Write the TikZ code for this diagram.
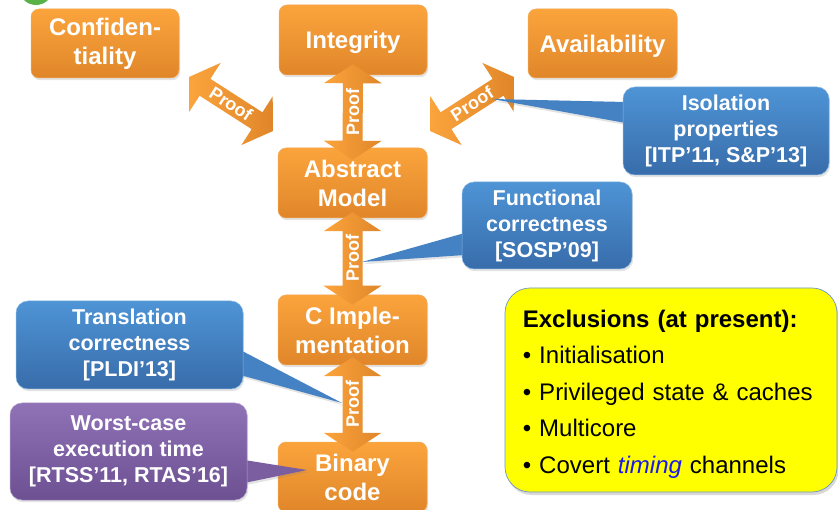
\documentclass[tikz,border=0pt]{standalone}
\usepackage{fontspec}
\setmainfont{Liberation Sans}
\usetikzlibrary{calc,shadows}

\definecolor{orTop}{RGB}{251,164,60}
\definecolor{orBot}{RGB}{224,134,42}
\definecolor{orEdge}{RGB}{240,170,90}
\definecolor{blTop}{RGB}{78,148,214}
\definecolor{blBot}{RGB}{56,108,170}
\definecolor{blMid}{RGB}{68,130,196}
\definecolor{puTop}{RGB}{144,114,182}
\definecolor{puBot}{RGB}{108,80,146}
\definecolor{puMid}{RGB}{122,94,160}
\definecolor{exclYellow}{RGB}{255,255,0}
\definecolor{exclEdge}{RGB}{110,150,200}
\definecolor{timingBlue}{RGB}{25,25,235}
\definecolor{dotGreen}{RGB}{88,178,72}

\pgfdeclarelayer{boxes}
\pgfdeclarelayer{arrows}
\pgfdeclarelayer{wedges}
\pgfsetlayers{boxes,arrows,wedges,main}

\tikzset{
  softshadow/.style={drop shadow={opacity=0.22, shadow xshift=1.2pt, shadow yshift=-2.2pt}},
  orbox/.style={rounded corners=8pt, top color=orTop, bottom color=orBot,
    draw=orEdge, line width=0.5pt, minimum width=149pt, minimum height=70pt,
    text=white, font=\fontsize{24}{29}\selectfont\bfseries, align=center,
    inner sep=0pt, softshadow},
  callout/.style={rounded corners=12pt, draw=#1Top!70!white, line width=0.5pt,
    top color=#1Top, bottom color=#1Bot, text=white,
    font=\fontsize{21.5}{26}\selectfont\bfseries, align=center,
    inner sep=0pt, softshadow},
  wedge/.style={fill=#1Mid, softshadow},
  arrowshade/.style={left color=orTop, right color=orBot},
  prooflbl/.style={text=white, font=\fontsize{18}{20}\selectfont\bfseries, inner sep=0pt},
  exclbox/.style={rounded corners=25pt, fill=exclYellow, draw=exclEdge,
    line width=0.7pt, minimum width=332pt, minimum height=204pt,
    drop shadow={opacity=0.3, shadow xshift=1.5pt, shadow yshift=-3pt}},
}

% double block arrow between two tips, shaft half-width 10, head half-width 29, head length 19
\newcommand{\proofarrow}[2]{%
  \shade[arrowshade] (#1)
    -- ($(#1)!19pt!(#2)!29pt!90:(#2)$)
    -- ($(#1)!19pt!(#2)!10pt!90:(#2)$)
    -- ($(#2)!19pt!(#1)!10pt!-90:(#1)$)
    -- ($(#2)!19pt!(#1)!29pt!-90:(#1)$)
    -- (#2)
    -- ($(#2)!19pt!(#1)!29pt!90:(#1)$)
    -- ($(#2)!19pt!(#1)!10pt!90:(#1)$)
    -- ($(#1)!19pt!(#2)!10pt!-90:(#2)$)
    -- ($(#1)!19pt!(#2)!29pt!-90:(#2)$)
    -- cycle;}

\begin{document}
\begin{tikzpicture}[x=1pt,y=-1pt]
\useasboundingbox (0,0) rectangle (838,510);
\clip (0,0) rectangle (838,510);

\begin{pgfonlayer}{boxes}
\fill[white] (0,0) rectangle (838,510);
% corner dot
\fill[dotGreen] (36,-12) circle (17);

% security properties and refinement layers
\node[orbox, minimum width=148pt, minimum height=69pt] (conf) at (105,43.5) {Confiden-\\tiality};
\node[orbox, minimum width=148pt, text depth=0pt] (integ) at (353,40) {Integrity};
\node[orbox, minimum height=69pt, text depth=0pt] (avail) at (602.5,43.5) {Availability};
\node[orbox] (abs) at (352.5,183) {Abstract\\Model};
\node[orbox] (cimpl) at (352.5,330) {C Imple-\\mentation};
\node[orbox] (bin) at (352.5,477) {Binary\\code};
\end{pgfonlayer}

% arrow tips
\coordinate (t1a) at ($(integ.south)+(0,-11)$);
\coordinate (t1b) at ($(abs.north)+(0,12)$);
\coordinate (t2a) at ($(abs.south)+(0,-6)$);
\coordinate (t2b) at ($(cimpl.north)+(0,10)$);
\coordinate (t3a) at ($(cimpl.south)+(0,-8)$);
\coordinate (t3b) at ($(bin.north)+(0,10)$);
\coordinate (t4a) at (189,77);
\coordinate (t4b) at (273,131);
\coordinate (t5a) at (430,131);
\coordinate (t5b) at (514,77);

\begin{pgfonlayer}{arrows}
\proofarrow{t1a}{t1b}
\proofarrow{t2a}{t2b}
\proofarrow{t3a}{t3b}
\proofarrow{t4a}{t4b}
\proofarrow{t5a}{t5b}

\node[prooflbl, rotate=90] (p1) at ($(t1a)!0.5!(t1b)$) {Proof};
\node[prooflbl, rotate=90] (p2) at ($(t2a)!0.5!(t2b)$) {Proof};
\node[prooflbl, rotate=90] (p3) at ($(t3a)!0.5!(t3b)$) {Proof};
\node[prooflbl, rotate=-33] (p4) at ($(t4a)!0.5!(t4b)$) {Proof};
\node[prooflbl, rotate=33] (p5) at ($(t5a)!0.5!(t5b)$) {Proof};
\end{pgfonlayer}

% callouts
\node[callout=bl, minimum width=206pt, minimum height=88pt] (iso) at (726,131) {Isolation\\properties\\{}[ITP’11, S\&P’13]};
\node[callout=bl, minimum width=170pt, minimum height=87pt] (func) at (547,225.5) {Functional\\correctness\\{}[SOSP’09]};
\node[callout=bl, minimum width=227pt, minimum height=88pt] (trans) at (129.5,345) {Translation\\correctness\\{}[PLDI’13]};
\node[callout=pu, minimum width=237pt, minimum height=97pt] (wcet) at (128.5,451.5) {Worst-case\\execution time\\{}[RTSS’11, RTAS’16]};

\coordinate (isotip) at (492,99);
\coordinate (functip) at (362,262);
\coordinate (transtip) at (342,403);
\coordinate (wcettip) at (307,470);

\begin{pgfonlayer}{wedges}
\fill[wedge=bl] ($(iso.west)+(3,-29)$) -- (isotip) -- ($(iso.west)+(3,-8)$) -- cycle;
\fill[wedge=bl] ($(func.west)+(3,7.5)$) -- (functip) -- ($(func.west)+(3,29.5)$) -- cycle;
\fill[wedge=bl] ($(trans.east)+(-3,5)$) -- (transtip) -- ($(trans.east)+(-3,30)$) -- cycle;
\fill[wedge=pu] ($(wcet.east)+(-3,8.5)$) -- (wcettip) -- ($(wcet.east)+(-3,31.5)$) -- cycle;
\end{pgfonlayer}

% exclusions
\node[exclbox] (excl) at (671,390) {};
\node[anchor=west, align=left, inner sep=0pt, text width=300pt,
  font=\fontsize{24}{36.5}\selectfont] (excltext) at ($(excl.west)+(18,4)$)
  {\textbf{Exclusions (at present):}\\
   • Initialisation\\
   • Privileged state \& caches\\
   • Multicore\\
   • Covert \textcolor{timingBlue}{\itshape timing} channels};
\end{tikzpicture}
\end{document}
